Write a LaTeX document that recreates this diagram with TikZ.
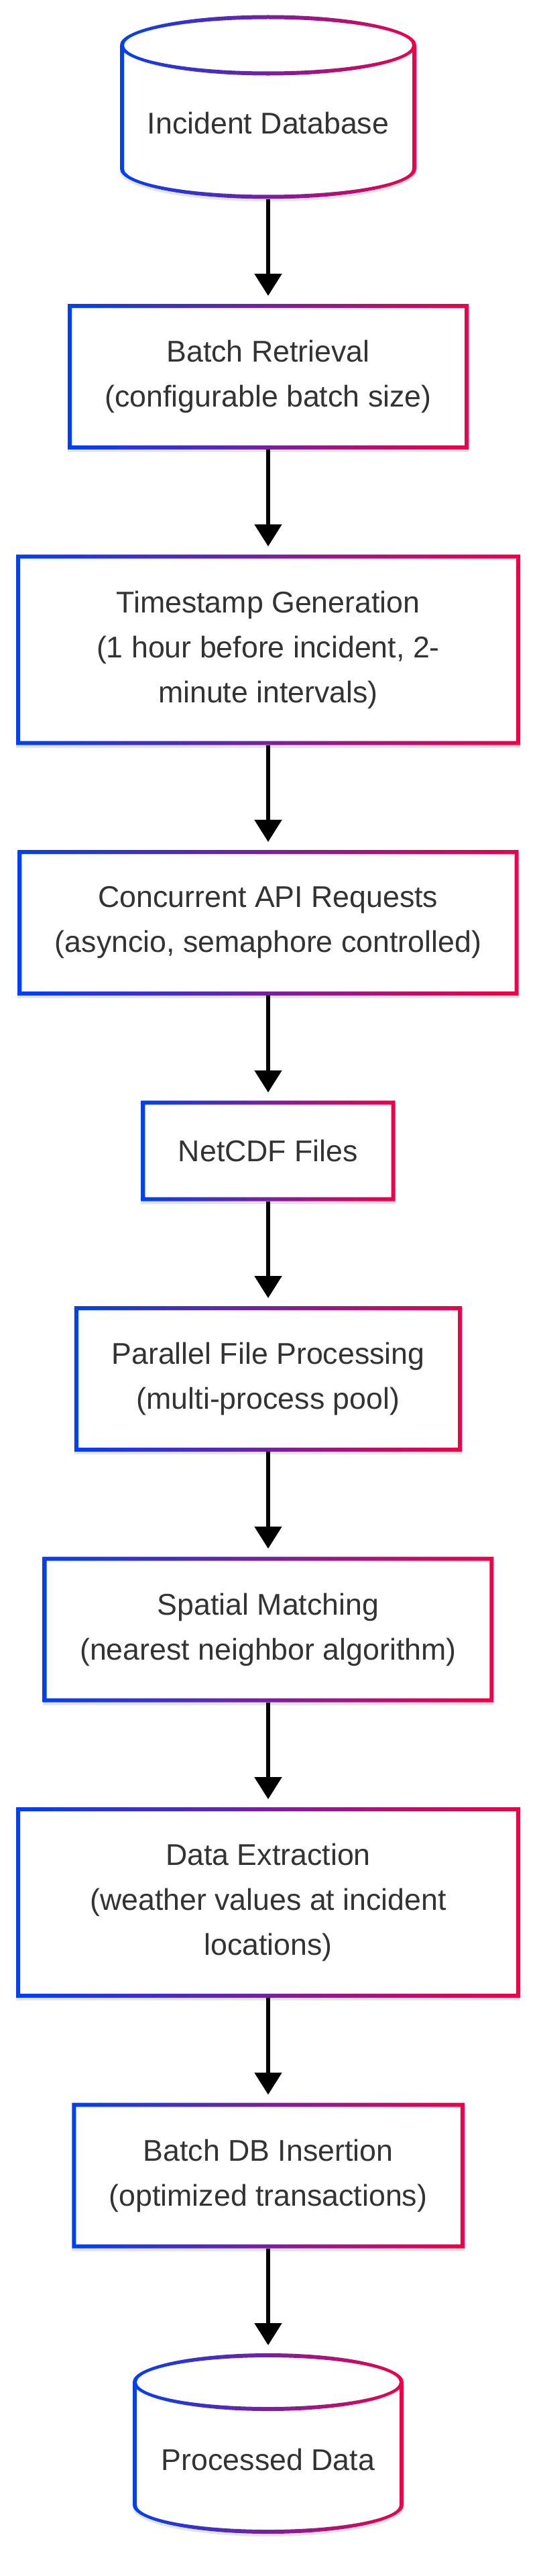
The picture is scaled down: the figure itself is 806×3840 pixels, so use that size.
\documentclass[tikz,border=0pt]{standalone}
\usepackage{fontspec}
\setmainfont{Liberation Sans}
\usetikzlibrary{positioning,arrows.meta,shadows,backgrounds}

\definecolor{flowblue}{RGB}{0,64,245}
\definecolor{flowred}{RGB}{240,0,72}
\definecolor{labelgray}{HTML}{333333}

% gradient frame round a box node
\newcommand\boxborder[1]{%
  \shade[left color=flowblue,right color=flowred,even odd rule]
    (#1.north west) rectangle (#1.south east)
    ([shift={(6,-6)}]#1.north west) rectangle ([shift={(-6,6)}]#1.south east);}

% database drum: node, x radius, y radius, half body length
\newcommand\dbborder[4]{%
  \pgfmathsetmacro\ro{#2+3}\pgfmathsetmacro\ri{#2-3}%
  \pgfmathsetmacro\qo{#3+3}\pgfmathsetmacro\qi{#3-3}%
  \pgfmathsetmacro\ang{acos(\ri/\ro)}\pgfmathsetmacro\angb{\ang-180}%
  \pgfmathsetmacro\dip{#4-\qo*sin(\ang)}%
  \begin{scope}[on background layer,shift={(#1.center)}]
    \fill[white,drop shadow={shadow xshift=0pt,shadow yshift=-4pt,fill=black,opacity=.1}]
      (-\ro,#4) arc[start angle=180,end angle=0,x radius=\ro pt,y radius=\qo pt]
      -- (\ro,-#4) arc[start angle=0,end angle=-180,x radius=\ro pt,y radius=\qo pt] -- cycle;
    \shade[left color=flowblue,right color=flowred,even odd rule]
      (-\ro,#4) arc[start angle=180,end angle=0,x radius=\ro pt,y radius=\qo pt]
      -- (\ro,-#4) arc[start angle=0,end angle=-180,x radius=\ro pt,y radius=\qo pt] -- cycle
      (0,#4) ellipse[x radius=\ri pt,y radius=\qi pt]
      (-\ri,\dip) -- (-\ri,-#4) arc[start angle=180,end angle=360,x radius=\ri pt,y radius=\qi pt]
      -- (\ri,\dip) arc[start angle=-\ang,end angle=\angb,x radius=\ro pt,y radius=\qo pt] -- cycle;
  \end{scope}}

\begin{document}
\begin{tikzpicture}[x=1pt,y=1pt,node distance=156.5pt,
    font=\fontsize{44.7}{67}\selectfont,
    stepbox/.style={rectangle,fill=white,align=center,text=labelgray,
      inner xsep=55.5pt,inner ysep=0pt,outer sep=0pt,minimum height=217pt,
      drop shadow={shadow xshift=0pt,shadow yshift=-4pt,fill=black,opacity=.1}},
    oneline/.style={stepbox,minimum height=150pt},
    threeline/.style={stepbox,minimum height=284pt,minimum width=752pt},
    dbnode/.style={rectangle,inner sep=0pt,outer sep=0pt,text=labelgray,
      text height=80pt,text depth=0pt},
    flow/.style={line width=5.6pt,-{Triangle[width=40pt,length=33pt]},shorten >=12pt}]
  \useasboundingbox (0,0) rectangle (806,-3840);

  \node[dbnode,minimum width=442pt,minimum height=274pt] (incidentdb) at (400,-159.5) {Incident Database};
  \node[stepbox,below=of incidentdb] (retrieval) {Batch Retrieval\\(configurable batch size)};
  \node[threeline,below=of retrieval] (timestamps) {Timestamp Generation\\(1 hour before incident, 2-\\minute intervals)};
  \node[stepbox,below=of timestamps] (apireq) {Concurrent API Requests\\(asyncio, semaphore controlled)};
  \node[oneline,below=of apireq] (netcdf) {NetCDF Files};
  \node[stepbox,below=of netcdf] (parproc) {Parallel File Processing\\(multi-process pool)};
  \node[stepbox,below=of parproc] (spatial) {Spatial Matching\\(nearest neighbor algorithm)};
  \node[threeline,below=of spatial] (extract) {Data Extraction\\(weather values at incident\\locations)};
  \node[stepbox,below=of extract] (dbinsert) {Batch DB Insertion\\(optimized transactions)};
  \node[dbnode,minimum width=404pt,minimum height=269pt,below=of dbinsert] (processed) {Processed Data};

  \dbborder{incidentdb}{218}{42}{92}
  \dbborder{processed}{199}{40}{91.5}
  \foreach \n in {retrieval,timestamps,apireq,netcdf,parproc,spatial,extract,dbinsert}
    \boxborder{\n};

  \foreach \a/\b in {incidentdb/retrieval,retrieval/timestamps,timestamps/apireq,apireq/netcdf,
      netcdf/parproc,parproc/spatial,spatial/extract,extract/dbinsert,dbinsert/processed}
    \draw[flow] (\a) -- (\b);
\end{tikzpicture}
\end{document}
